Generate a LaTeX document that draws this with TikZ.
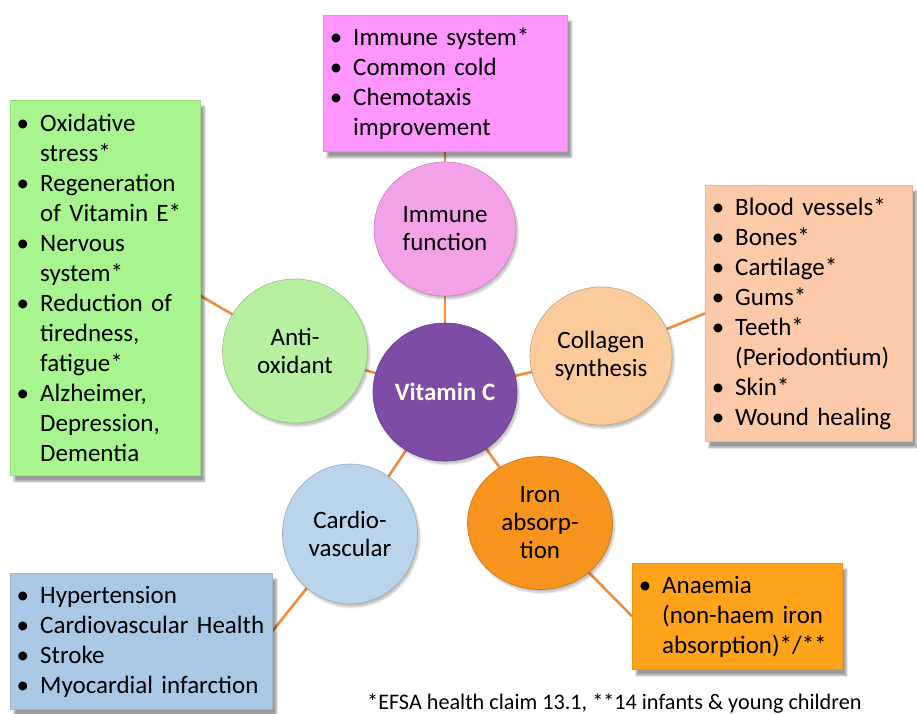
\documentclass[tikz,border=0pt]{standalone}
\usepackage{fontspec}
\setmainfont{Carlito}
\usepackage{enumitem}
\usetikzlibrary{shapes.geometric,shadows.blur,backgrounds}

\definecolor{vitpurple}{RGB}{126,76,166}
\definecolor{pinkball}{RGB}{244,162,232}
\definecolor{greenball}{RGB}{184,240,162}
\definecolor{peachball}{RGB}{251,203,156}
\definecolor{blueball}{RGB}{186,212,236}
\definecolor{orangeball}{RGB}{247,148,30}
\definecolor{pinkbox}{RGB}{255,150,255}
\definecolor{greenbox}{RGB}{168,245,143}
\definecolor{peachbox}{RGB}{252,202,168}
\definecolor{bluebox}{RGB}{168,200,229}
\definecolor{orangebox}{RGB}{255,163,26}
\definecolor{linkline}{RGB}{240,140,60}

\newcommand{\itemlist}[1]{\begin{itemize}[label=\textbullet,leftmargin=24pt,labelsep=11pt,itemsep=0pt,topsep=0pt,parsep=0pt,partopsep=0pt]#1\end{itemize}\par\kern12pt\relax}

\begin{document}
\begin{tikzpicture}[x=1pt,y=-1pt,
    ball/.style={ellipse, fill=#1, draw=#1!80!black, line width=0.6pt, align=center,
      inner sep=0pt, font=\fontsize{25}{28}\selectfont,
      blur shadow={shadow xshift=2pt, shadow yshift=-3pt, shadow opacity=25, shadow blur steps=6}},
    listbox/.style={rectangle, fill=#1, draw=#1!92!black, line width=0.4pt, anchor=north west,
      inner xsep=6pt, inner ysep=0pt, align=left, font=\fontsize{25}{30}\selectfont,
      blur shadow={shadow xshift=4pt, shadow yshift=-6pt, shadow opacity=40, shadow blur steps=8}},
    link/.style={draw=linkline, line width=2.6pt}
]
\useasboundingbox (0,0) rectangle (917,713);

% Centre and topics
\node[ball=vitpurple, minimum width=144pt, minimum height=138pt, text=white!92!yellow,
  font=\fontsize{25}{28}\selectfont\bfseries] (vitc) at (445,392) {Vitamin C};
\node[ball=pinkball, minimum width=142pt, minimum height=134pt] (immune) at (445,229) {Immune\\function};
\node[ball=greenball, minimum width=145pt, minimum height=144pt] (antiox) at (295,351) {Anti-\\oxidant};
\node[ball=peachball, minimum width=142pt, minimum height=138pt] (collagen) at (601,356) {Collagen\\synthesis};
\node[ball=blueball, minimum width=135pt, minimum height=140pt] (cardio) at (350,534) {Cardio-\\vascular};
\node[ball=orangeball, minimum width=145pt, minimum height=133pt] (iron) at (540,523) {Iron\\absorp-\\tion};

% Lists
\node[listbox=pinkbox, minimum width=244pt, minimum height=129pt, text width=232pt] (immunebox) at (323,15)
  {\itemlist{\item Immune system* \item Common cold \item Chemotaxis\newline improvement}};
\node[listbox=greenbox, minimum width=190pt, minimum height=375pt, text width=178pt] (antioxbox) at (10,100)
  {\itemlist{\item Oxidative\newline stress* \item Regeneration\newline of Vitamin E* \item Nervous\newline system*
  \item Reduction of\newline tiredness,\newline fatigue* \item Alzheimer,\newline Depression,\newline Dementia}};
\node[listbox=peachbox, minimum width=207pt, minimum height=252pt, text width=195pt] (collagenbox) at (705,185)
  {\itemlist{\item Blood vessels* \item Bones* \item Cartilage* \item Gums* \item Teeth*\newline (Periodontium)
  \item Skin* \item Wound healing}};
\node[listbox=bluebox, minimum width=262pt, minimum height=127pt, text width=250pt] (cardiobox) at (10,573)
  {\itemlist{\item Hypertension \item \mbox{Cardiovascular Health} \item Stroke \item Myocardial infarction}};
\node[listbox=orangebox, minimum width=210pt, minimum height=102pt, text width=198pt] (ironbox) at (632,563)
  {\itemlist{\item Anaemia\newline (non-haem iron\newline absorption)*/**}};

% Footnote
\node[anchor=base west, inner sep=0pt, font=\fontsize{22.2}{26}\selectfont] (note) at (367,709)
  {*EFSA health claim 13.1, **14 infants \& young children};

% Connectors
\begin{pgfonlayer}{background}
\draw[link] (vitc.center) -- (immune.center);
\draw[link] (vitc.center) -- (antiox.center);
\draw[link] (vitc.center) -- (collagen.center);
\draw[link] (vitc.center) -- (cardio.center);
\draw[link] (vitc.center) -- (iron.center);
\draw[link] (immune.center) -- (immunebox.south -| immune.center);
\draw[link] (antiox.center) -- ([yshift=-8pt]antioxbox.east);
\draw[link] (collagen.center) -- (collagenbox.west);
\draw[link] (cardio.center) -- ([yshift=10pt]cardiobox.east);
\draw[link] (iron.center) -- (ironbox.west);
\end{pgfonlayer}
\end{tikzpicture}
\end{document}
